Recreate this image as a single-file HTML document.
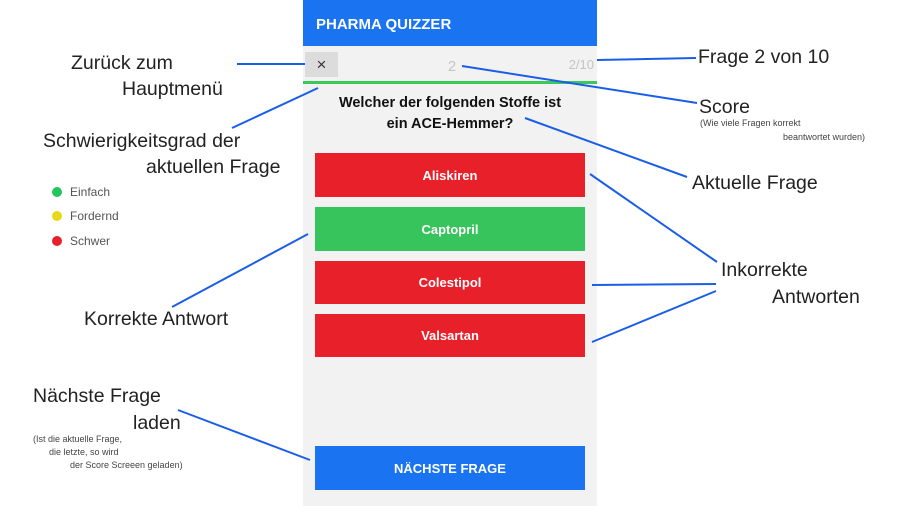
<!DOCTYPE html>
<html><head><meta charset="utf-8"><style>
html,body{margin:0;padding:0;background:#fff;}
svg{display:block;}
text{font-family:"Liberation Sans",sans-serif;}
</style></head><body>
<svg width="900" height="506" viewBox="0 0 900 506" xmlns="http://www.w3.org/2000/svg">
<rect x="303" y="0" width="294" height="506" fill="#f2f2f2"/>
<rect x="303" y="0" width="294" height="46" fill="#1a73f0"/>
<text x="316" y="29" font-size="15" font-weight="bold" fill="#fff">PHARMA QUIZZER</text>
<rect x="305" y="52" width="33" height="25" fill="#dcdcdc"/>
<text x="321.5" y="70" font-size="17" fill="#333" text-anchor="middle">×</text>
<text x="452" y="71" font-size="15" fill="#c4c4c4" text-anchor="middle">2</text>
<text x="594" y="69" font-size="13" fill="#c4c4c4" text-anchor="end">2/10</text>
<rect x="303" y="81" width="294" height="3" fill="#3cc85a"/>
<text x="450" y="107" font-size="14.5" font-weight="bold" fill="#111" text-anchor="middle">Welcher der folgenden Stoffe ist</text>
<text x="450" y="128" font-size="14.5" font-weight="bold" fill="#111" text-anchor="middle">ein ACE-Hemmer?</text>
<rect x="315" y="153" width="270" height="44" fill="#e8202a"/>
<text x="450" y="180" font-size="13" font-weight="bold" fill="#fff" text-anchor="middle">Aliskiren</text>
<rect x="315" y="207" width="270" height="44" fill="#38c45c"/>
<text x="450" y="234" font-size="13" font-weight="bold" fill="#fff" text-anchor="middle">Captopril</text>
<rect x="315" y="261" width="270" height="43" fill="#e8202a"/>
<text x="450" y="287" font-size="13" font-weight="bold" fill="#fff" text-anchor="middle">Colestipol</text>
<rect x="315" y="314" width="270" height="43" fill="#e8202a"/>
<text x="450" y="340" font-size="13" font-weight="bold" fill="#fff" text-anchor="middle">Valsartan</text>
<rect x="315" y="446" width="270" height="44" fill="#1a73f0"/>
<text x="450" y="473" font-size="13" font-weight="bold" fill="#fff" text-anchor="middle">NÄCHSTE FRAGE</text>

<g stroke="#1a5ee8" stroke-width="2" fill="none">
<line x1="237" y1="64" x2="305" y2="64"/>
<line x1="597" y1="60" x2="696" y2="58"/>
<line x1="462" y1="66" x2="697" y2="103"/>
<line x1="318" y1="88" x2="232" y2="128"/>
<line x1="525" y1="118" x2="687" y2="177"/>
<line x1="590" y1="174" x2="717" y2="262"/>
<line x1="592" y1="285" x2="716" y2="284"/>
<line x1="592" y1="342" x2="716" y2="291"/>
<line x1="308" y1="234" x2="172" y2="307"/>
<line x1="178" y1="410" x2="310" y2="460"/>
</g>

<g font-size="19.5" fill="#222">
<text x="71" y="69">Zurück zum</text>
<text x="122" y="95">Hauptmenü</text>
<text x="43" y="147">Schwierigkeitsgrad der</text>
<text x="146" y="173">aktuellen Frage</text>
<text x="84" y="325">Korrekte Antwort</text>
<text x="33" y="402">Nächste Frage</text>
<text x="133" y="429">laden</text>
<text x="698" y="63">Frage 2 von 10</text>
<text x="699" y="113">Score</text>
<text x="692" y="189">Aktuelle Frage</text>
<text x="721" y="276">Inkorrekte</text>
<text x="772" y="303">Antworten</text>
</g>
<g font-size="9" fill="#444">
<text x="700" y="126">(Wie viele Fragen korrekt</text>
<text x="783" y="140">beantwortet wurden)</text>
<text x="33" y="442">(Ist die aktuelle Frage,</text>
<text x="49" y="455">die letzte, so wird</text>
<text x="70" y="468">der Score Screeen geladen)</text>
</g>
<circle cx="57" cy="192" r="5" fill="#22c55e"/>
<circle cx="57" cy="216" r="5" fill="#e6d81a"/>
<circle cx="57" cy="241" r="5" fill="#e8202a"/>
<g font-size="12" fill="#555">
<text x="70" y="196">Einfach</text>
<text x="70" y="220">Fordernd</text>
<text x="70" y="245">Schwer</text>
</g>
</svg>
</body></html>
